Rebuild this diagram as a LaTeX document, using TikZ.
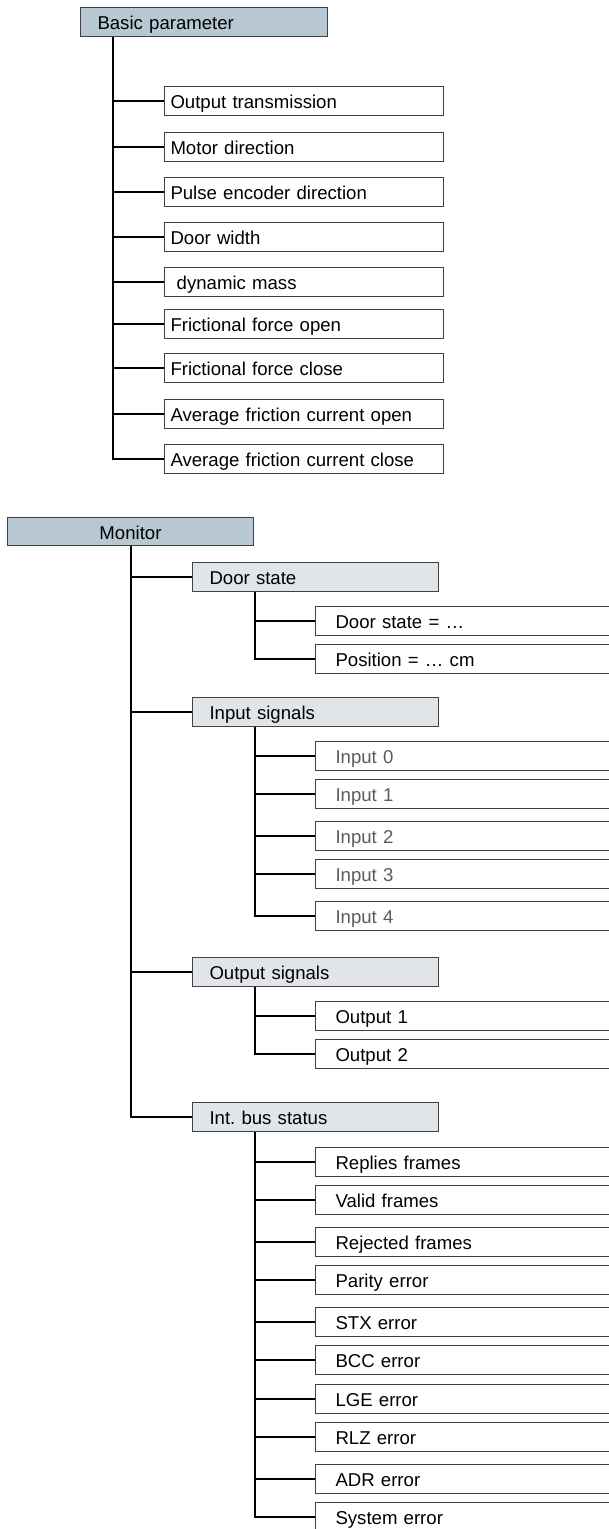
\documentclass[tikz,border=0pt]{standalone}
\usepackage{fontspec}
\setmainfont{Liberation Sans}
\usetikzlibrary{calc}
\definecolor{hdrfill}{HTML}{B8C8D3}
\definecolor{subfill}{HTML}{E1E5E9}
\definecolor{boxline}{HTML}{404040}
\definecolor{greytext}{HTML}{5C5C5C}
\newcommand\myfs{\fontsize{18.6}{22}\selectfont}
\frenchspacing
\tikzset{
  basebox/.style={rectangle, draw=boxline, line width=1pt, minimum height=28.5pt,
    inner ysep=0pt, text height=15pt, text depth=0pt, anchor=west, align=left, font=\myfs},
  hdrbox/.style={basebox, fill=hdrfill},
  bpbox/.style={hdrbox, inner xsep=17pt, text width=213pt},
  monbox/.style={hdrbox, inner xsep=4pt, text width=238pt, align=center},
  leafA/.style={basebox, fill=white, inner xsep=6pt, text width=267pt},
  midbox/.style={basebox, fill=subfill, inner xsep=17pt, text width=212pt},
  leafB/.style={basebox, fill=white, inner xsep=20pt, text width=260pt},
  greyleaf/.style={leafB, text=greytext},
  conn/.style={line width=1.8pt, black}
}
\begin{document}
\begin{tikzpicture}[x=1pt,y=-1pt]
\clip (0,0) rectangle (609,1529);
\fill[white] (0,0) rectangle (609,1529);
% ---------- Basic parameter ----------
\node[bpbox] (bp) at (80,22) {Basic parameter};
\node[leafA] (ot)  at (164,101) {Output transmission};
\node[leafA] (md)  at (164,147) {Motor direction};
\node[leafA] (ped) at (164,192) {Pulse encoder direction};
\node[leafA] (dw)  at (164,237) {Door width};
\node[leafA] (dm)  at (164,282) {\ dynamic mass};
\node[leafA] (ffo) at (164,324) {Frictional force open};
\node[leafA] (ffc) at (164,368) {Frictional force close};
\node[leafA] (afo) at (164,414) {Average friction current open};
\node[leafA] (afc) at (164,459) {Average friction current close};
\coordinate (t1) at ($(bp.south west)+(33,0)$);
\draw[conn] (t1) |- (afc.west);
\foreach \n in {ot,md,ped,dw,dm,ffo,ffc,afo}
  \draw[conn] (\n.west) -- (\n.west -| t1);
% ---------- Monitor ----------
\node[monbox] (mon) at (7,531.5) {Monitor};
\node[midbox] (ds)  at (192,577)  {Door state};
\node[leafB]  (dse) at (315,621)  {Door state = …};
\node[leafB]  (pos) at (315,659)  {Position = … cm};
\node[midbox] (is)  at (192,712)  {Input signals};
\node[greyleaf] (in0) at (315,756) {Input 0};
\node[greyleaf] (in1) at (315,794) {Input 1};
\node[greyleaf] (in2) at (315,836) {Input 2};
\node[greyleaf] (in3) at (315,874) {Input 3};
\node[greyleaf] (in4) at (315,916) {Input 4};
\node[midbox] (os)  at (192,972)  {Output signals};
\node[leafB]  (o1)  at (315,1016) {Output 1};
\node[leafB]  (o2)  at (315,1054) {Output 2};
\node[midbox] (ibs) at (192,1117) {Int.\ bus status};
\node[leafB] (rf)  at (315,1162)  {Replies frames};
\node[leafB] (vf)  at (315,1200)  {Valid frames};
\node[leafB] (rj)  at (315,1242)  {Rejected frames};
\node[leafB] (par) at (315,1280)  {Parity error};
\node[leafB] (stx) at (315,1322)  {STX error};
\node[leafB] (bcc) at (315,1360)  {BCC error};
\node[leafB] (lge) at (315,1399)  {LGE error};
\node[leafB] (rlz) at (315,1437)  {RLZ error};
\node[leafB] (adr) at (315,1479)  {ADR error};
\node[leafB] (sys) at (315,1517)  {System error};
% main trunk
\coordinate (t2) at ($(mon.south west)+(124,0)$);
\draw[conn] (t2) |- (ibs.west);
\foreach \n in {ds,is,os}
  \draw[conn] (\n.west) -- (\n.west -| t2);
% sub trunks
\coordinate (t3) at ($(ds.south west)+(63,0)$);
\draw[conn] (t3) |- (pos.west);
\draw[conn] (dse.west) -- (dse.west -| t3);
\coordinate (t4) at ($(is.south west)+(63,0)$);
\draw[conn] (t4) |- (in4.west);
\foreach \n in {in0,in1,in2,in3}
  \draw[conn] (\n.west) -- (\n.west -| t4);
\coordinate (t5) at ($(os.south west)+(63,0)$);
\draw[conn] (t5) |- (o2.west);
\draw[conn] (o1.west) -- (o1.west -| t5);
\coordinate (t6) at ($(ibs.south west)+(63,0)$);
\draw[conn] (t6) |- (sys.west);
\foreach \n in {rf,vf,rj,par,stx,bcc,lge,rlz,adr}
  \draw[conn] (\n.west) -- (\n.west -| t6);
\end{tikzpicture}
\end{document}
